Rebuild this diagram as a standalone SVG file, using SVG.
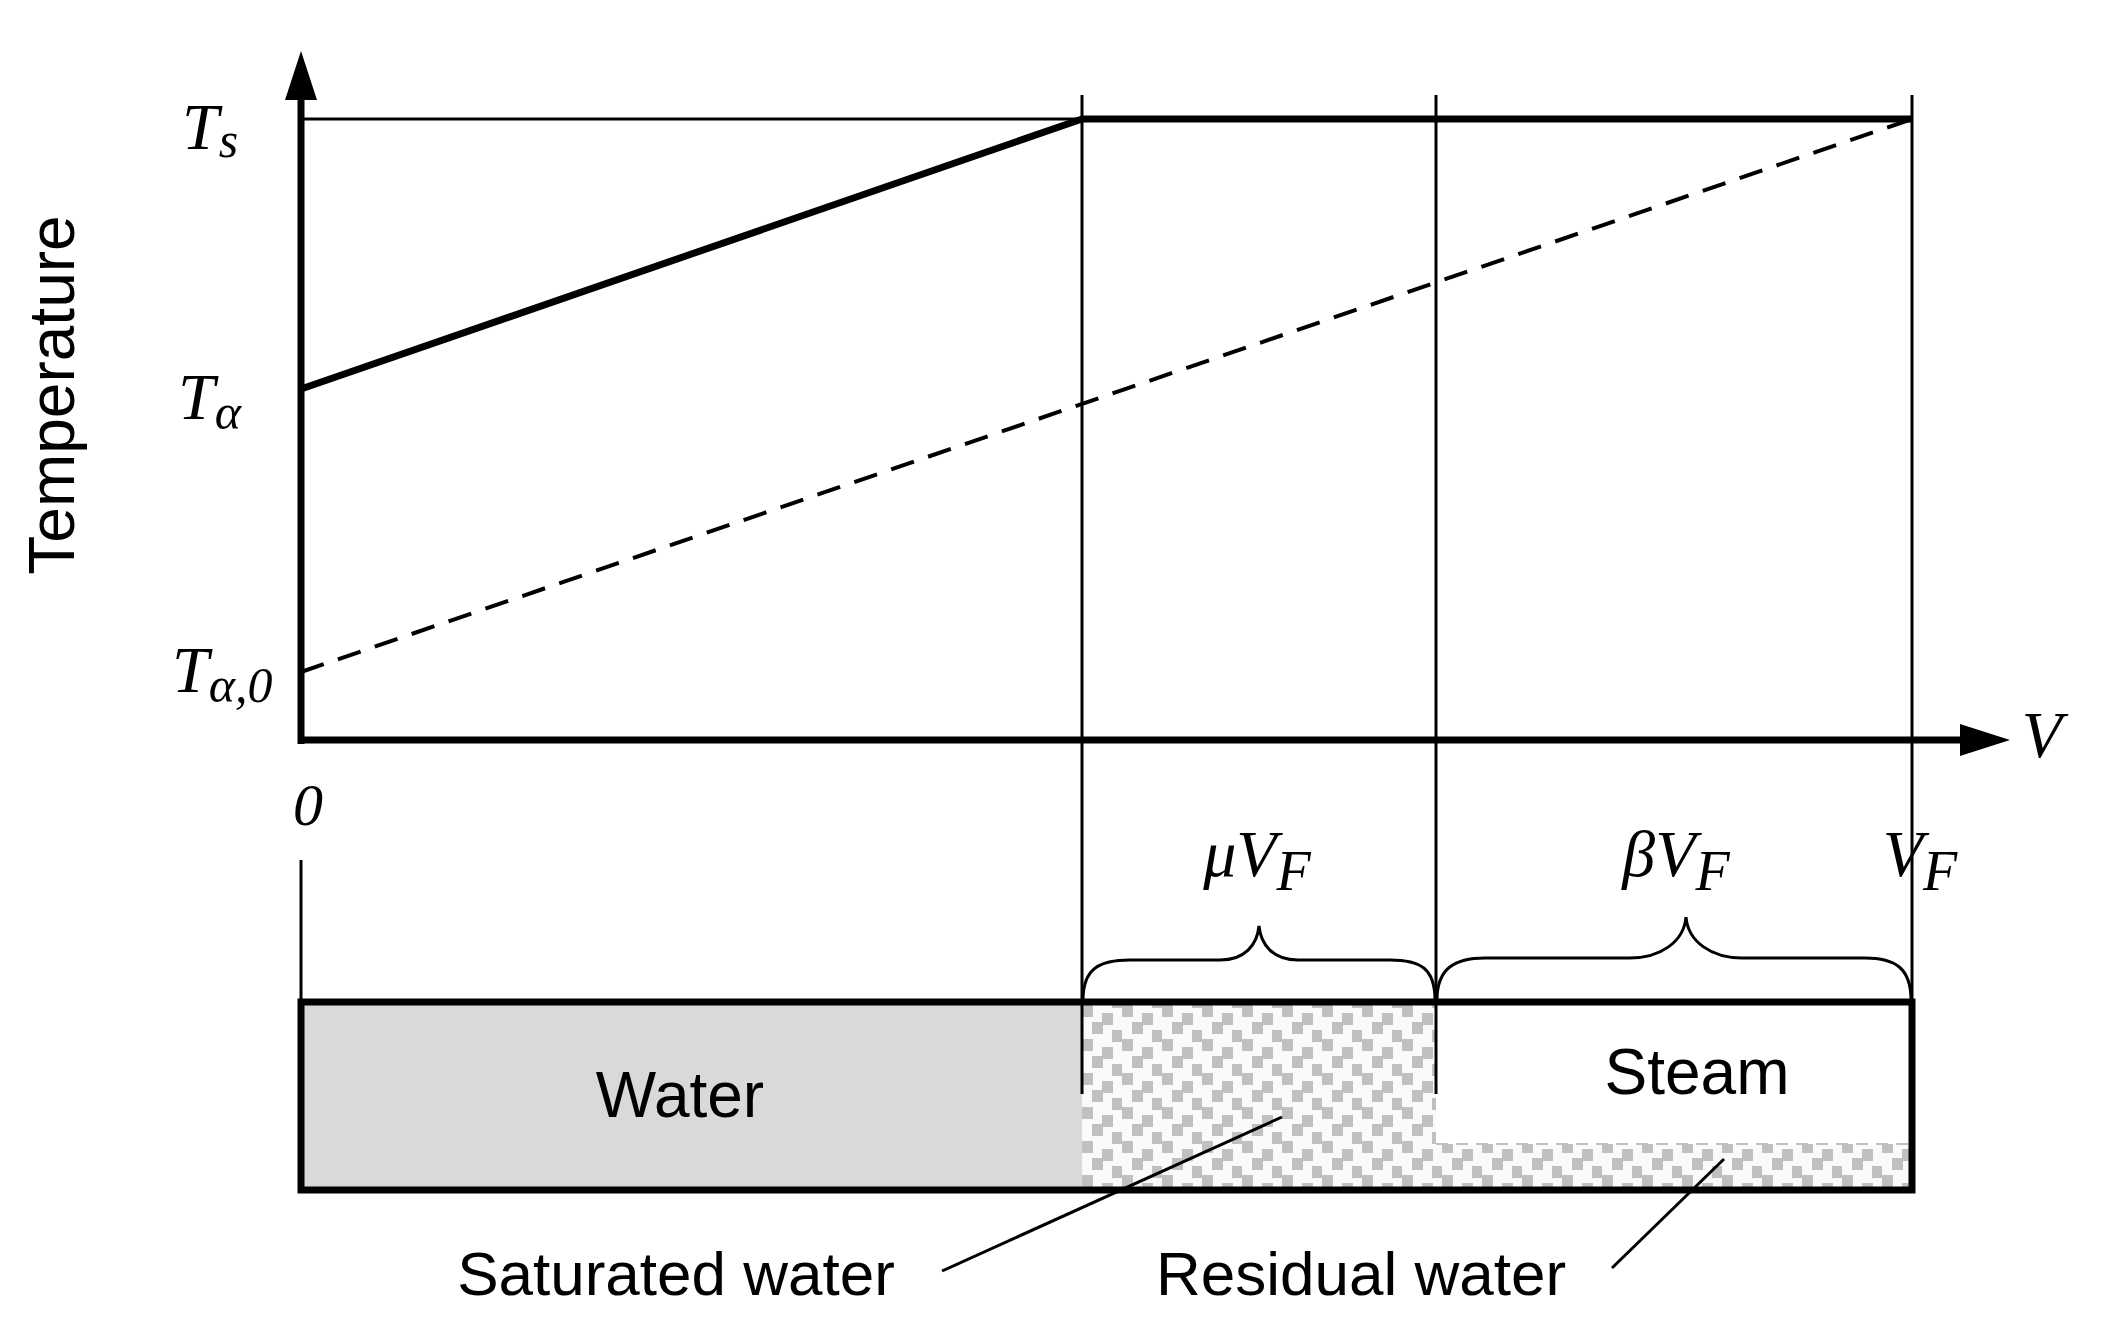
<svg xmlns="http://www.w3.org/2000/svg" width="2105" height="1321" viewBox="0 0 2105 1321">
<style>
.m{font-family:"Liberation Serif",serif;font-style:italic;fill:#000}
.s{font-family:"Liberation Sans",Arial,sans-serif;fill:#000}
.thin{stroke:#000;stroke-width:3;fill:none}
.thick{stroke:#000;stroke-width:7;fill:none}
</style>
<defs>
<pattern id="dots" patternUnits="userSpaceOnUse" x="1082" y="1005" width="40" height="34">
<rect width="40" height="34" fill="#fafafa"/>
<rect x="0" y="0" width="11" height="12" fill="#c0c0c0"/>
<rect x="20" y="8" width="11" height="12" fill="#c0c0c0"/>
<rect x="10" y="17" width="11" height="12" fill="#c0c0c0"/>
<rect x="30" y="25" width="10" height="9" fill="#c0c0c0"/>
<rect x="30" y="0" width="10" height="3" fill="#c0c0c0"/>
</pattern>
</defs>
<g id="lower-box">
<rect x="301" y="1002" width="781" height="188" fill="#d9d9d9"/>
<rect x="1082" y="1002" width="354" height="188" fill="url(#dots)"/>
<rect x="1436" y="1144" width="476" height="46" fill="url(#dots)"/>
<line x1="1436" y1="1144" x2="1912" y2="1144" stroke="#c0c0c0" stroke-width="2" stroke-dasharray="12,8"/>
<rect x="301" y="1002" width="1611" height="188" class="thick"/>
<text class="s" x="680" y="1117" font-size="64" text-anchor="middle">Water</text>
<text class="s" x="1697" y="1094" font-size="64" text-anchor="middle">Steam</text>
</g>
<g id="connectors">
<line class="thin" x1="1082" y1="95" x2="1082" y2="1094"/>
<line class="thin" x1="1436" y1="95" x2="1436" y2="1094"/>
<line class="thin" x1="1912" y1="95" x2="1912" y2="1002"/>
<line class="thin" x1="301" y1="860" x2="301" y2="1002"/>
<line class="thin" x1="301" y1="119" x2="1082" y2="119"/>
<line class="thick" x1="1082" y1="119" x2="1912" y2="119"/>
<line class="thick" x1="301" y1="389" x2="1082" y2="119"/>
<line x1="301" y1="672" x2="1912" y2="119" stroke="#000" stroke-width="4" stroke-dasharray="24,15"/>
<line class="thick" x1="301" y1="744" x2="301" y2="95"/>
<polygon points="301,51 285,100 317,100" fill="#000"/>
<line class="thick" x1="298" y1="740" x2="1965" y2="740"/>
<polygon points="2010,740 1960,724 1960,756" fill="#000"/>
<path class="thin" d="M1083,1000 C1083,968 1100,960 1130,960 L1220,960 C1245,960 1257,945 1259,926 C1261,945 1273,960 1298,960 L1390,960 C1420,960 1435,968 1435,1000"/>
<path class="thin" d="M1437,1000 C1437,968 1455,958 1485,958 L1630,958 C1660,958 1684,942 1686,917 C1688,942 1712,958 1742,958 L1865,958 C1895,958 1911,968 1911,1000"/>
<line class="thin" x1="942" y1="1271" x2="1282" y2="1117"/>
<line class="thin" x1="1612" y1="1268" x2="1724" y2="1159"/>
</g>
<g id="labels">
<text class="m" x="182" y="149" font-size="66">T<tspan font-size="50" dy="8">s</tspan></text>
<text class="m" x="178" y="419" font-size="66">T<tspan font-size="50" dy="10">α</tspan></text>
<text class="m" x="172" y="692" font-size="66">T<tspan font-size="50" dy="10">α,0</tspan></text>
<text class="m" x="308" y="825" font-size="60" font-style="normal" text-anchor="middle">0</text>
<text class="m" x="2042" y="757" font-size="66" text-anchor="middle">V</text>
<text class="m" x="1257" y="876" font-size="66" text-anchor="middle">μV<tspan font-size="56" dy="14">F</tspan></text>
<text class="m" x="1676" y="876" font-size="66" text-anchor="middle">βV<tspan font-size="56" dy="14">F</tspan></text>
<text class="m" x="1920" y="876" font-size="66" text-anchor="middle">V<tspan font-size="56" dy="14">F</tspan></text>
<text class="s" x="0" y="0" font-size="64" text-anchor="middle" transform="translate(74,395) rotate(-90)">Temperature</text>
<text class="s" x="676" y="1295" font-size="62" text-anchor="middle">Saturated water</text>
<text class="s" x="1361" y="1295" font-size="62" text-anchor="middle">Residual water</text>
</g>
</svg>
